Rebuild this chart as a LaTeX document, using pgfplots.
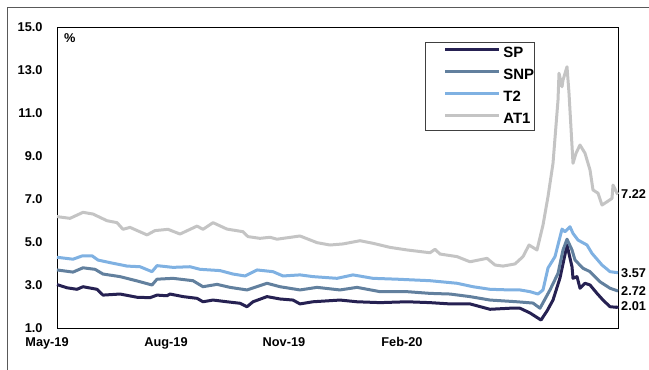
\documentclass[border=0pt]{standalone}
\usepackage{pgfplots}
\pgfplotsset{compat=1.18}
\usepackage{fontspec}
\setmainfont{Liberation Sans}
\definecolor{cSP}{HTML}{262152}
\definecolor{cSNP}{HTML}{62809E}
\definecolor{cT2}{HTML}{7FB1E2}
\definecolor{cAT1}{HTML}{C4C4C4}
\newcommand{\lblfont}{\bfseries\fontsize{12.8}{14}\selectfont}
\newcommand{\legfont}{\bfseries\fontsize{15}{16}\selectfont}
\begin{document}
\begin{tikzpicture}
\useasboundingbox (-57bp,-42bp) rectangle (592bp,328bp);
\draw[gray!70!black, line width=0.9bp] (-50bp,-42bp) -- (-50bp,321bp) -- (592bp,321bp);
\begin{axis}[
  at={(0,0)}, anchor=south west,
  scale only axis, width=561bp, height=301bp,
  xmin=0, xmax=561, ymin=1, ymax=15,
  ytick={1,3,5,7,9,11,13,15},
  xtick={0,119,237,355},
  xticklabels={May-19,Aug-19,Nov-19,Feb-20},
  major tick length=0pt,
  axis line style={black, line width=0.9bp},
  /pgf/number format/assume math mode=true,
  yticklabel style={/pgf/number format/fixed, /pgf/number format/precision=1, /pgf/number format/fixed zerofill, xshift=-11bp},
  xticklabel style={xshift=-10bp, yshift=-6bp},
  ticklabel style={font=\lblfont},
  clip=false,
  legend cell align=left,
  legend style={at={(0.656,0.950)}, anchor=north west, draw=black!75, line width=0.7bp,
    inner xsep=0bp, inner ysep=0bp, row sep=0bp,
    /tikz/every even column/.append style={column sep=0bp},
    /tikz/every odd column/.append style={column sep=0bp},
    nodes={inner xsep=0bp, inner ysep=0bp, text height=15bp, text depth=7bp, font=\legfont}},
  legend image code/.code={\path[draw=none] (0bp,-1bp) rectangle (78bp,1bp); \draw[#1, line width=3bp] (20bp,4bp) -- (74bp,4bp);},
]
\addplot[cSP, line width=3bp, line join=round] coordinates {
(0,3.02)(10,2.87)(20,2.80)(26,2.92)(40,2.80)(46,2.53)(63,2.58)(80,2.43)(93,2.41)(100,2.53)(110,2.50)(113,2.58)(126,2.46)(140,2.38)(146,2.22)(156,2.30)(170,2.22)(183,2.15)(190,1.99)(196,2.22)(210,2.46)(223,2.35)(236,2.30)(243,2.12)(256,2.22)(283,2.30)(300,2.22)(323,2.18)(350,2.22)(373,2.18)(393,2.12)(413,2.12)(433,1.87)(453,1.92)(463,1.92)(473,1.70)(484,1.37)(490,1.79)(496,2.30)(503,3.33)(510,4.86)(515,3.85)(516,3.31)(520,3.39)(523,2.85)(528,3.08)(533,3.00)(540,2.61)(546,2.30)(553,1.99)(560,1.96)(561,2.01)
};
\addlegendentry{SP}
\addplot[cSNP, line width=3bp, line join=round] coordinates {
(0,3.70)(16,3.60)(26,3.80)(38,3.73)(46,3.51)(63,3.39)(80,3.19)(95,3.00)(100,3.27)(116,3.31)(136,3.20)(146,2.92)(160,3.03)(173,2.89)(190,2.77)(210,3.08)(223,2.92)(243,2.77)(260,2.89)(283,2.77)(300,2.89)(323,2.69)(350,2.69)(373,2.61)(393,2.58)(413,2.46)(433,2.30)(460,2.22)(476,2.16)(483,1.92)(493,2.77)(501,3.54)(506,4.63)(510,5.13)(515,4.63)(518,4.16)(526,3.78)(533,3.62)(543,3.15)(553,2.85)(561,2.72)
};
\addlegendentry{SNP}
\addplot[cT2, line width=3bp, line join=round] coordinates {
(0,4.29)(16,4.20)(25,4.35)(35,4.36)(41,4.16)(53,4.04)(70,3.88)(83,3.85)(95,3.62)(100,3.90)(116,3.82)(133,3.85)(143,3.73)(163,3.67)(176,3.51)(188,3.42)(200,3.70)(216,3.62)(226,3.42)(243,3.47)(256,3.39)(280,3.31)(296,3.47)(316,3.31)(340,3.27)(373,3.20)(400,3.08)(416,2.92)(433,2.80)(453,2.77)(463,2.77)(473,2.69)(481,2.58)(486,2.77)(491,3.79)(498,4.32)(505,5.60)(508,5.48)(513,5.71)(516,5.40)(521,5.09)(530,4.86)(535,4.47)(545,3.93)(553,3.62)(561,3.57)
};
\addlegendentry{T2}
\addplot[cAT1, line width=3bp, line join=round] coordinates {
(0,6.18)(13,6.10)(26,6.38)(36,6.30)(50,5.99)(60,5.90)(66,5.59)(73,5.68)(90,5.33)(98,5.53)(111,5.59)(123,5.37)(140,5.74)(146,5.59)(156,5.90)(170,5.60)(186,5.48)(191,5.25)(203,5.17)(213,5.22)(220,5.13)(243,5.28)(260,4.97)(273,4.86)(286,4.91)(303,5.06)(316,4.94)(333,4.75)(350,4.63)(373,4.50)(378,4.66)(383,4.44)(400,4.32)(413,4.08)(430,4.24)(438,3.93)(446,3.88)(458,3.98)(466,4.32)(472,4.86)(480,4.63)(486,5.79)(491,7.11)(496,8.66)(501,11.60)(502,12.85)(505,12.22)(506,12.53)(510,13.15)(512,11.92)(516,8.66)(519,9.13)(523,9.51)(528,9.13)(533,8.35)(536,7.42)(541,7.27)(545,6.72)(550,6.87)(555,7.03)(556,7.65)(560,7.27)(561,7.22)
};
\addlegendentry{AT1\hspace{11bp}}
\node[font=\lblfont, anchor=center] at (rel axis cs:0.023,0.963) {\%};
\node[font=\lblfont, anchor=west, inner sep=0pt, xshift=3bp] at (axis cs:561,7.22) {7.22};
\node[font=\lblfont, anchor=west, inner sep=0pt, xshift=3bp] at (axis cs:561,3.57) {3.57};
\node[font=\lblfont, anchor=west, inner sep=0pt, xshift=3bp] at (axis cs:561,2.72) {2.72};
\node[font=\lblfont, anchor=west, inner sep=0pt, xshift=3bp] at (axis cs:561,2.01) {2.01};
\end{axis}
\end{tikzpicture}
\end{document}
